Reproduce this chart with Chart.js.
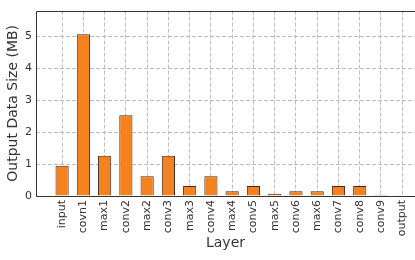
<!DOCTYPE html>
<html lang="en">
<head>
  <meta charset="UTF-8" />
  <title>Output Data Size per Layer</title>
  <script src="https://cdn.jsdelivr.net/npm/chart.js"></script>
  <style>
    html, body {
      margin: 0;
      padding: 0;
      background: #fff;
      overflow: hidden;
    }
    .chart-container {
      width: 415px;
      height: 260px;
      position: relative;
    }
  </style>
</head>
<body>
  <div class="chart-container">
    <canvas id="sizeChart"></canvas>
  </div>

  <script>
    const layers = ['input', 'covn1', 'max1', 'conv2', 'max2', 'conv3', 'max3', 'conv4', 'max4',
                    'conv5', 'max5', 'conv6', 'max6', 'conv7', 'conv8', 'conv9', 'output'];
    const sizesMB = [0.95, 5.06, 1.26, 2.53, 0.62, 1.26, 0.31, 0.62, 0.15,
                     0.31, 0.07, 0.15, 0.15, 0.31, 0.31, 0.04, 0.005];
    const yTicks = [0, 1, 2, 3, 4, 5];

    const textColor = '#333';
    const fontFamily = "'DejaVu Sans', sans-serif";

    // left, top and bottom spines (right one falls outside the picture)
    const spines = {
      id: 'spines',
      afterDatasetsDraw(chart) {
        const { ctx, chartArea: a } = chart;
        const l = Math.round(a.left) + 0.5, t = Math.round(a.top) + 0.5, b = Math.round(a.bottom) + 0.5;
        ctx.save();
        ctx.strokeStyle = '#333';
        ctx.lineWidth = 1;
        ctx.beginPath();
        ctx.moveTo(chart.width, t);
        ctx.lineTo(l, t);
        ctx.lineTo(l, b);
        ctx.lineTo(chart.width, b);
        ctx.stroke();
        ctx.restore();
      }
    };

    const ctx = document.getElementById('sizeChart').getContext('2d');
    new Chart(ctx, {
      type: 'bar',
      data: {
        datasets: [{
          data: sizesMB.map((v, i) => ({ x: i, y: v })),
          backgroundColor: '#f5811f',
          borderColor: '#3d2b1f',
          borderWidth: 1,
          barPercentage: 0.62,
          categoryPercentage: 1
        }]
      },
      options: {
        responsive: true,
        maintainAspectRatio: false,
        animation: false,
        devicePixelRatio: 1,
        layout: { padding: { top: 6, right: 0, left: 0, bottom: 0 } },
        plugins: {
          legend: { display: false },
          tooltip: { enabled: false }
        },
        scales: {
          x: {
            type: 'linear',
            offset: false,
            min: -1.228,
            max: 16.6,
            afterBuildTicks: (scale) => { scale.ticks = layers.map((_, i) => ({ value: i })); },
            afterFit: (scale) => {
              scale.height = 64;
              scale.paddingLeft = 0;
              scale.paddingRight = 0;
            },
            grid: { offset: false, color: '#bdbdbd', lineWidth: 1, drawTicks: false },
            border: { display: false, dash: [4, 2] },
            ticks: {
              autoSkip: false,
              minRotation: 90,
              maxRotation: 90,
              padding: 4,
              color: textColor,
              font: { family: fontFamily, size: 11 },
              callback: (v) => layers[v] ?? ''
            },
            title: {
              display: true,
              text: 'Layer',
              color: textColor,
              font: { family: fontFamily, size: 14 },
              padding: { top: 0, bottom: 8 }
            }
          },
          y: {
            min: 0,
            max: 5.8,
            afterBuildTicks: (scale) => { scale.ticks = yTicks.map(v => ({ value: v })); },
            afterFit: (scale) => { scale.width = 36; },
            grid: { color: '#bdbdbd', lineWidth: 1, drawTicks: false },
            border: { display: false, dash: [4, 2] },
            ticks: {
              padding: 4,
              color: textColor,
              font: { family: fontFamily, size: 11 }
            },
            title: {
              display: true,
              text: 'Output Data Size (MB)',
              color: textColor,
              font: { family: fontFamily, size: 14 },
              padding: { top: 5, bottom: 0 }
            }
          }
        }
      },
      plugins: [spines]
    });
  </script>
</body>
</html>
